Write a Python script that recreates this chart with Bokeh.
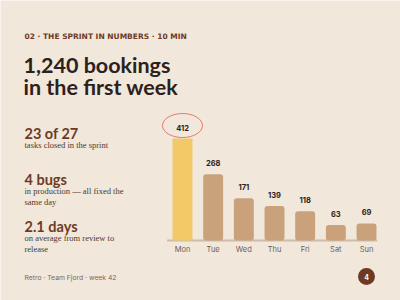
from bokeh.plotting import figure
from bokeh.models import Range1d
from bokeh.core.properties import value
from bokeh.embed import file_html
from bokeh.resources import INLINE

# ---- data ----
days = ["Mon", "Tue", "Wed", "Thu", "Fri", "Sat", "Sun"]
bookings = [412, 268, 171, 139, 118, 63, 69]
kicker = "02 · THE SPRINT IN NUMBERS · 10 MIN"
title_lines = ["1,240 bookings", "in the first week"]
stat_heads = ["23 of 27", "4 bugs", "2.1 days"]
stat_notes = [["tasks closed in the sprint"],
              ["in production — all fixed the", "same day"],
              ["on average from review to", "release"]]
footer = "Retro · Team Fjord · week 42"
page_no = "4"

BG = "#f1e7db"
BROWN = "#6d3b25"
DARK = "#2c211b"
SANS = "Inter"
HEAD = "Lato"
SERIF = "Liberation Serif"

p = figure(width=400, height=300, output_backend="svg", toolbar_location=None,
           x_range=Range1d(0, 400), y_range=Range1d(300, 0),
           min_border=0, background_fill_color=BG, border_fill_color=BG,
           outline_line_color=None)
p.axis.visible = False
p.grid.visible = False

# chart ranges: index of day, bookings value
step = 30.667
x0px = 182.0
p.extra_x_ranges = {"days": Range1d(-x0px / step, (400 - x0px) / step)}
k = 0.2475
base_px = 240.0
p.extra_y_ranges = {"val": Range1d(-(300 - base_px) / k, base_px / k)}

idx = list(range(len(days)))

# baseline
p.segment(x0=[-0.5], y0=[0], x1=[6.35], y1=[0], line_color="#cdbcaa", line_width=2,
          x_range_name="days", y_range_name="val")

# bars
hi = [i for i in idx if bookings[i] == max(bookings)]
rest = [i for i in idx if i not in hi]
p.vbar(x=[idx[i] for i in rest], top=[bookings[i] for i in rest], bottom=0, width=0.65,
       fill_color="#c9a27c", line_color=None, border_radius=3,
       x_range_name="days", y_range_name="val")
p.vbar(x=[idx[i] for i in hi], top=[bookings[i] for i in hi], bottom=0, width=0.65,
       fill_color="#f2c966", line_color=None,
       x_range_name="days", y_range_name="val")

# value labels
p.text(x=idx, y=bookings, text=[str(v) for v in bookings], x_range_name="days", y_range_name="val",
       text_align="center", text_baseline="middle", y_offset=-11,
       text_font=value(SANS), text_font_style="bold", text_font_size="7.5px", text_color=DARK)

# highlight ellipse (centered ~13px above the bar top)
p.ellipse(x=[idx[i] for i in hi], y=[bookings[i] + 13 / k for i in hi], width=40, height=24,
          width_units="screen", height_units="screen",
          fill_color=None, line_color="#e07b6c", line_width=1,
          x_range_name="days", y_range_name="val")

# day labels
p.text(x=idx, y=[0] * len(days), text=days, x_range_name="days", y_range_name="val",
       text_align="center", text_baseline="middle", y_offset=8.5,
       text_font=value(SANS), text_font_size="7.5px", text_color="#6e5e52")

# kicker and title
p.text(x=[24], y=[36], text=[kicker], text_font=value("DejaVu Sans"), text_font_style="bold",
       text_font_size="7.5px", text_color=BROWN, text_baseline="alphabetic")
p.text(x=[23, 23], y=[64, 86], text=title_lines, text_font=value(HEAD), text_font_style="bold",
       text_font_size="21.5px", text_color=DARK, text_baseline="alphabetic")

# stats
head_y = [133, 179, 226]
for hy, head, notes in zip(head_y, stat_heads, stat_notes):
    p.text(x=[24], y=[hy], text=[head], text_font=value(HEAD), text_font_style="bold",
           text_font_size="14.5px", text_color=BROWN, text_baseline="alphabetic")
    p.text(x=[24] * len(notes), y=[hy + 11.5 + 10.5 * j for j in range(len(notes))], text=notes,
           text_font=value(SERIF), text_font_size="8.5px", text_color="#4a3b32",
           text_baseline="alphabetic")

# footer
p.text(x=[24], y=[277], text=[footer], text_font=value(SANS), text_font_size="6.8px",
       text_color="#7a6a5e", text_baseline="middle")
p.scatter(x=[366], y=[276], size=17, marker="circle", fill_color=BROWN, line_color=None)
p.text(x=[366], y=[276], text=[page_no], text_font=value(SANS), text_font_style="bold",
       text_font_size="7px", text_color="white", text_align="center", text_baseline="middle")

open("out.html", "w").write(file_html(p, INLINE))
